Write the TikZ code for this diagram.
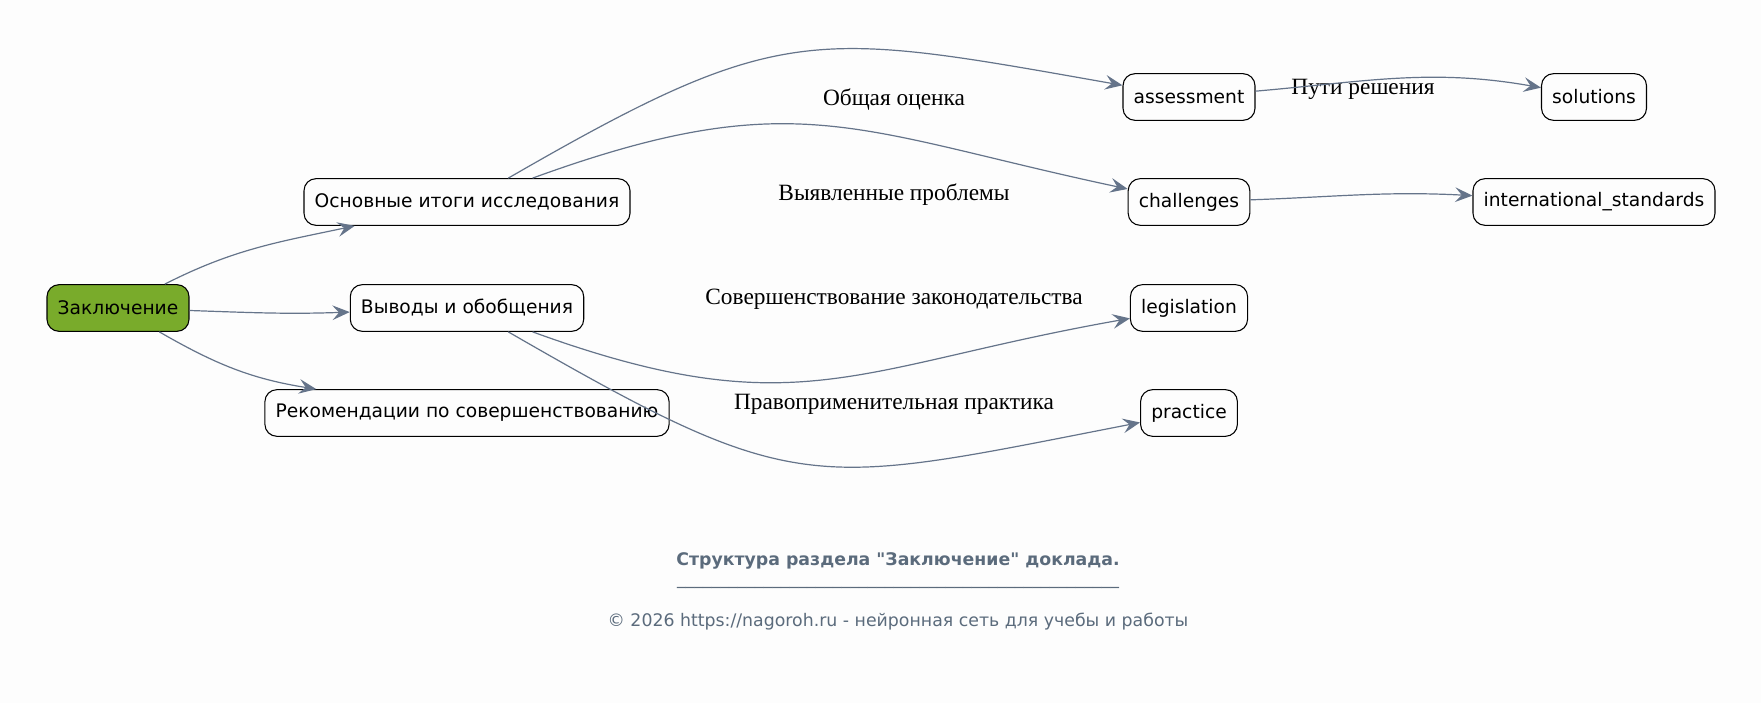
\documentclass[tikz,border=0pt]{standalone}
\usepackage{fontspec}
\setmainfont{DejaVu Sans}
\newfontfamily\edgefont{Liberation Serif}
\usetikzlibrary{arrows.meta}
\definecolor{green}{HTML}{79AB2B}
\definecolor{slate}{HTML}{65748A}
\definecolor{caption}{HTML}{5B6B7C}
\definecolor{paper}{HTML}{FDFDFD}

\begin{document}
\begin{tikzpicture}[x=0.75pt,y=0.75pt,
		box/.style={draw,line width=0.8pt,rounded corners=9pt,minimum height=35pt,inner xsep=8pt,font=\fontsize{14}{16}\selectfont},
		elabel/.style={font=\edgefont\fontsize{17.5}{19}\selectfont},
		link/.style={-{Stealth[length=13pt,width=11pt,inset=5pt]},slate,line width=0.9pt}]
			\fill[paper] (0,0) rectangle (1761,703);
			\useasboundingbox (0,0) rectangle (1761,703);

			\node[box,fill=green] (concl) at (118,395) {Заключение};
			\node[box] (results) at (467,501) {Основные итоги исследования};
			\node[box] (findings) at (467,395) {Выводы и обобщения};
			\node[box] (recs) at (467,290) {Рекомендации по совершенствованию};
			\node[box] (assess) at (1189,606) {assessment};
			\node[box] (chall) at (1189,501) {challenges};
			\node[box] (legis) at (1189,395) {legislation};
			\node[box] (pract) at (1189,290) {practice};
			\node[box] (solut) at (1594,606) {solutions};
			\node[box] (intl) at (1594,501) {international\_standards};

			\node[elabel] (l_assess) at (894,603.5) {Общая оценка};
			\node[elabel] (l_chall) at (894,508.5) {Выявленные проблемы};
			\node[elabel] (l_legis) at (894,403.5) {Совершенствование законодательства};
			\node[elabel] (l_pract) at (894,298.5) {Правоприменительная практика};
			\node[elabel] (l_solut) at (1363,614) {Пути решения};

			\draw[link] (concl) to[out=27,in=192] (results);
			\draw[link] (concl) to[out=-2,in=182] (findings);
			\draw[link] (concl) to[out=-30,in=171] (recs);
			\draw[link] (results) to[out=30,in=170,looseness=1.3] (assess);
			\draw[link] (results) to[out=20,in=168,looseness=1.2] (chall);
			\draw[link] (findings) to[out=-20,in=190,looseness=1.2] (legis);
			\draw[link] (findings) to[out=-30,in=191,looseness=1.35] (pract);
			\draw[link] (assess) to[out=5,in=170] (solut);
			\draw[link] (chall) to[out=2,in=177] (intl);

			\node[text=caption,font=\bfseries\fontsize{13}{15}\selectfont] (title) at (898,142.5) {Структура раздела \textquotedbl Заключение\textquotedbl{} доклада.};
			\node[text=caption,font=\fontsize{13}{15}\selectfont,anchor=base] (rule) at (898,118) {\_\_\_\_\_\_\_\_\_\_\_\_\_\_\_\_\_\_\_\_\_\_\_\_\_\_\_\_\_\_\_\_\_\_\_\_\_\_\_\_\_\_\_\_\_\_\_\_\_\_\_};
			\node[text=caption,font=\fontsize{13}{15}\selectfont] (copy) at (898,81.5) {© 2026 https://nagoroh.ru - нейронная сеть для учебы и работы};
		\end{tikzpicture}
\end{document}
